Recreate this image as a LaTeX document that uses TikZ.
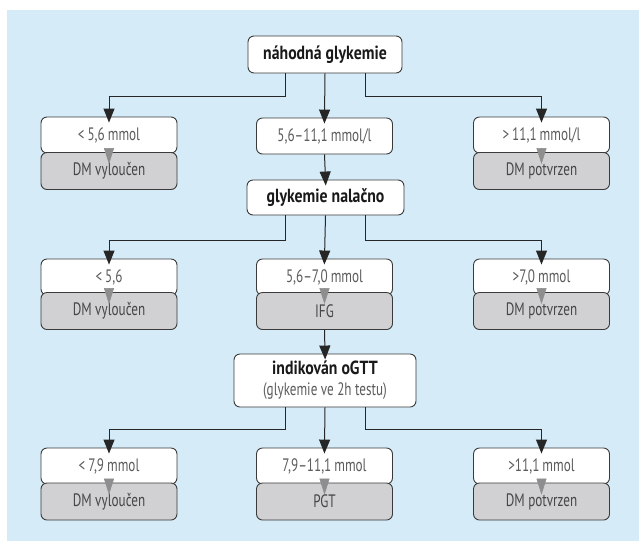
\documentclass[tikz,border=0pt]{standalone}
\usepackage{fontspec}
\setmainfont{PT Sans}[FakeStretch=0.83]
\newfontfamily\condfont{PT Sans}[FakeStretch=0.73]
\usetikzlibrary{arrows.meta}
\definecolor{bgblue}{HTML}{D5EBF8}
\definecolor{boxgray}{HTML}{D1D1D3}
\definecolor{edge}{HTML}{3A3A3A}
\definecolor{valtxt}{HTML}{5C5C5C}
\definecolor{restxt}{HTML}{464646}
\definecolor{tipgray}{HTML}{8E8E8E}
\tikzset{
  base/.style={draw=edge, line width=0.9pt, rounded corners=6pt, inner sep=0pt, align=center},
  headbox/.style={base, fill=white, font=\bfseries\fontsize{19}{21}\selectfont, text=black!90},
  wbox/.style={base, fill=white, minimum width=136pt, minimum height=36pt, font=\condfont\fontsize{18}{20}\selectfont, text=valtxt},
  gbox/.style={base, fill=boxgray, minimum width=136pt, minimum height=37pt, font=\condfont\fontsize{18}{20}\selectfont, text=restxt},
  arr/.style={draw=black!85, line width=1pt, -{Triangle[width=11pt,length=14pt]}, shorten >=-6pt},
  garr/.style={draw=tipgray, line width=0.5pt, -{Triangle[width=10pt,length=16pt]}},
}
\begin{document}
\begin{tikzpicture}[x=1pt,y=-1pt]
\useasboundingbox (0,0) rectangle (639,542);
\fill[bgblue] (7,10) rectangle (639,541);

% heads
\node[headbox, minimum width=154pt, minimum height=37pt] (h1) at (325,54.5) {náhodná glykemie};
\node[headbox, minimum width=157pt, minimum height=35pt] (h2) at (325.5,197.5) {glykemie nalačno};
\node[headbox, minimum width=182pt, minimum height=53pt] (h3) at (325,380.5)
  {indikován oGTT\\[0pt]{\condfont\mdseries\fontsize{18}{20}\selectfont\color{valtxt}(glykemie ve 2h testu)}};

% row 1
\node[wbox] (w1) at (109,135) {<\,5,6\,mmol};
\node[gbox] (g1) at (109,171) {DM vyloučen};
\node[wbox] (w2) at (324.5,136) {5,6–11,1\,mmol/l};
\node[wbox] (w3) at (541.5,135) {>\,11,1\,mmol/l};
\node[gbox] (g3) at (541.5,171) {DM potvrzen};

% row 2
\node[wbox] (w4) at (109,277) {<\,5,6};
\node[gbox] (g4) at (109,311) {DM vyloučen};
\node[wbox] (w5) at (324.5,277) {5,6–7,0\,mmol};
\node[gbox] (g5) at (324.5,311) {IFG};
\node[wbox] (w6) at (541.5,277) {>7,0\,mmol};
\node[gbox] (g6) at (541.5,311) {DM potvrzen};

% row 3
\node[wbox] (w7) at (109,466) {<\,7,9\,mmol};
\node[gbox] (g7) at (109,501.5) {DM vyloučen};
\node[wbox] (w8) at (324.5,466) {7,9–11,1\,mmol};
\node[gbox] (g8) at (324.5,501.5) {PGT};
\node[wbox] (w9) at (541.5,466) {>11,1\,mmol};
\node[gbox] (g9) at (541.5,501.5) {DM potvrzen};

% black connectors
\draw[arr] ([xshift=-40pt]h1.south) -- ++(0,23) -| (w1.north);
\draw[arr] (h1.south) -- (w2.north);
\draw[arr] ([xshift=40pt]h1.south) -- ++(0,23) -| (w3.north);
\draw[arr] (w2.south) -- (h2.north);
\draw[arr] ([xshift=-40pt]h2.south) -- ++(0,25) -| (w4.north);
\draw[arr] (h2.south) -- (w5.north);
\draw[arr] ([xshift=40pt]h2.south) -- ++(0,25) -| (w6.north);
\draw[arr] (g5.south) -- (h3.north);
\draw[arr] ([xshift=-40pt]h3.south) -- ++(0,22) -| (w7.north);
\draw[arr] (h3.south) -- (w8.north);
\draw[arr] ([xshift=40pt]h3.south) -- ++(0,22) -| (w9.north);

% grey tips
\foreach \w/\g in {w1/g1,w3/g3,w4/g4,w5/g5,w6/g6,w7/g7,w8/g8,w9/g9}
  \draw[garr] ([yshift=5pt]\w.south) -- ([yshift=-12pt]\g.north);
\end{tikzpicture}
\end{document}
